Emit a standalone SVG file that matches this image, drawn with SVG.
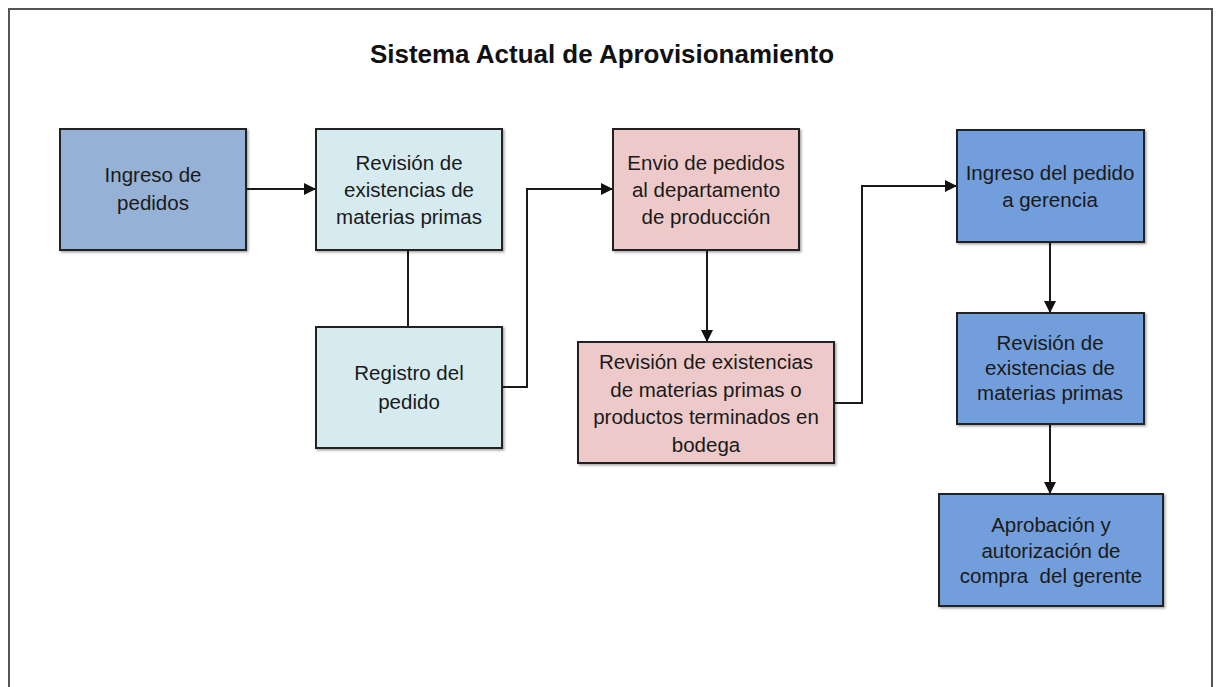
<svg xmlns="http://www.w3.org/2000/svg" width="1219" height="687" viewBox="0 0 1219 687">
<defs>
<marker id="arr" viewBox="0 0 10 10" refX="10" refY="5" markerWidth="6" markerHeight="6" markerUnits="strokeWidth" orient="auto">
<path d="M0,0 L10,5 L0,10 z" fill="#111"/>
</marker>
<filter id="sh" x="-5%" y="-5%" width="115%" height="115%">
<feDropShadow dx="1.5" dy="1.5" stdDeviation="1" flood-color="#000" flood-opacity="0.35"/>
</filter>
</defs>
<style>
.box{stroke:#222;stroke-width:2;filter:url(#sh)}
.t{font-family:"Liberation Sans",Arial,sans-serif;font-size:20.5px;fill:#1a1a1a;text-anchor:middle;white-space:pre}
.title{font-family:"Liberation Sans",Arial,sans-serif;font-size:25px;font-weight:bold;fill:#111;text-anchor:middle}
.c{fill:none;stroke:#1a1a1a;stroke-width:2}
.blue1{fill:#95b1d5}
.cyan{fill:#d5ebf0}
.pink{fill:#edcac9}
.blue2{fill:#729edb}
</style>
<rect x="0" y="0" width="1219" height="687" fill="#fff"/>
<path d="M9,687 L9,9 L1212,9 L1212,687" fill="none" stroke="#555" stroke-width="2"/>
<text class="title" x="602" y="63" textLength="464" lengthAdjust="spacingAndGlyphs">Sistema Actual de Aprovisionamiento</text>
<g id="connectors">
<path class="c" d="M246,189 L316,189" marker-end="url(#arr)"/>
<path class="c" d="M408,250 L408,327"/>
<path class="c" d="M502,387 L527,387 L527,189 L613,189" marker-end="url(#arr)"/>
<path class="c" d="M707,250 L707,342" marker-end="url(#arr)"/>
<path class="c" d="M834,403 L862,403 L862,186 L957,186" marker-end="url(#arr)"/>
<path class="c" d="M1050,242 L1050,313" marker-end="url(#arr)"/>
<path class="c" d="M1050,424 L1050,494" marker-end="url(#arr)"/>
</g>
<g id="n1">
<rect class="box blue1" x="60" y="129" width="186" height="121"/>
<text class="t" x="153" y="182">Ingreso de</text>
<text class="t" x="153" y="210">pedidos</text>
</g>
<g id="n2">
<rect class="box cyan" x="316" y="129" width="186" height="121"/>
<text class="t" x="409" y="170">Revisión de</text>
<text class="t" x="409" y="197">existencias de</text>
<text class="t" x="409" y="224">materias primas</text>
</g>
<g id="n3">
<rect class="box cyan" x="316" y="327" width="186" height="121"/>
<text class="t" x="409" y="380">Registro del</text>
<text class="t" x="409" y="409">pedido</text>
</g>
<g id="n4">
<rect class="box pink" x="613" y="129" width="186" height="121"/>
<text class="t" x="706" y="170">Envio de pedidos</text>
<text class="t" x="706" y="197">al departamento</text>
<text class="t" x="706" y="224">de producción</text>
</g>
<g id="n5">
<rect class="box pink" x="578" y="342" width="256" height="121"/>
<text class="t" x="706" y="369">Revisión de existencias</text>
<text class="t" x="706" y="397">de materias primas o</text>
<text class="t" x="706" y="424">productos terminados en</text>
<text class="t" x="706" y="452">bodega</text>
</g>
<g id="n6">
<rect class="box blue2" x="957" y="130" width="187" height="112"/>
<text class="t" x="1050" y="180">Ingreso del pedido</text>
<text class="t" x="1050" y="207">a gerencia</text>
</g>
<g id="n7">
<rect class="box blue2" x="957" y="313" width="187" height="111"/>
<text class="t" x="1050" y="350">Revisión de</text>
<text class="t" x="1050" y="375">existencias de</text>
<text class="t" x="1050" y="400">materias primas</text>
</g>
<g id="n8">
<rect class="box blue2" x="939" y="494" width="224" height="112"/>
<text class="t" x="1051" y="532">Aprobación y</text>
<text class="t" x="1051" y="558">autorización de</text>
<text class="t" x="1051" y="583">compra  del gerente</text>
</g>
</svg>
